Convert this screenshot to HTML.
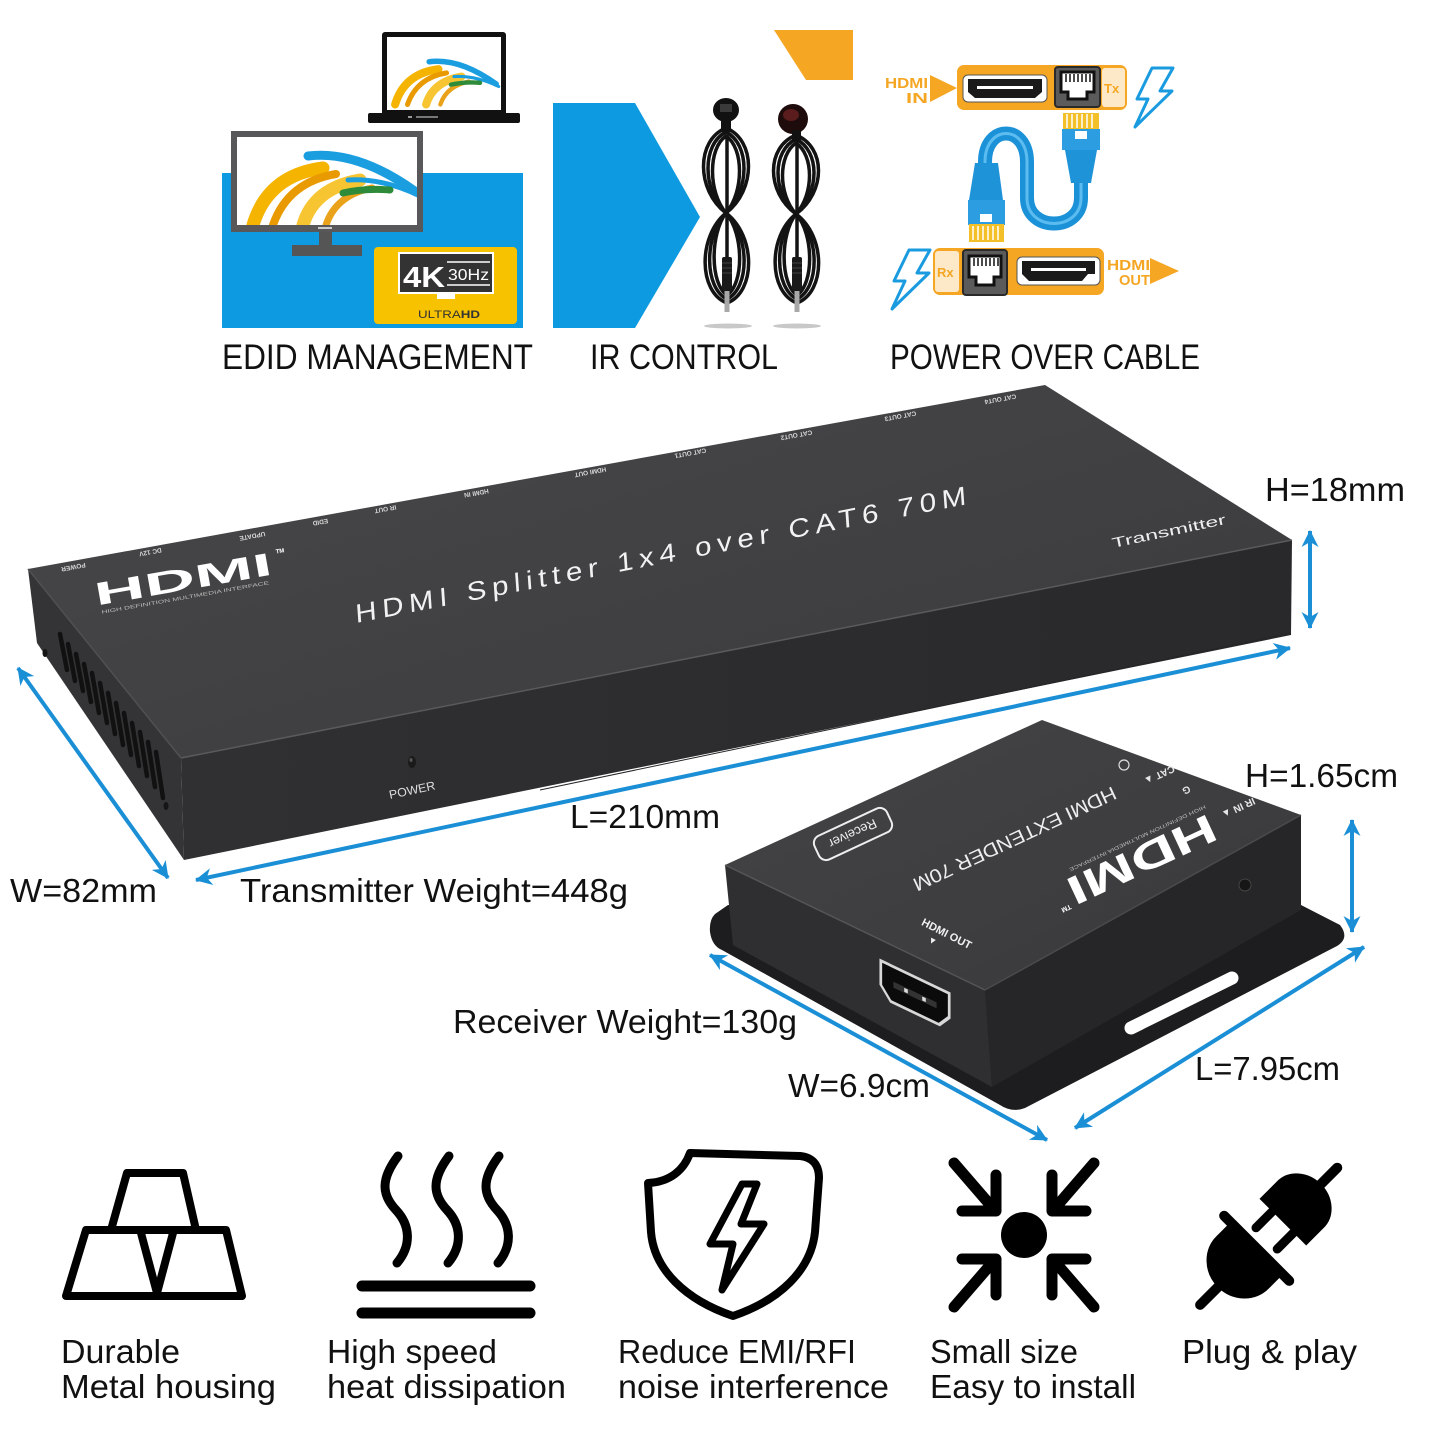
<!DOCTYPE html>
<html><head><meta charset="utf-8"><title>HDMI Splitter</title>
<style>
html,body{margin:0;padding:0;background:#fff;}
svg{display:block;}
text{font-family:"Liberation Sans",Arial,sans-serif;}
</style></head><body>
<svg width="1440" height="1440" viewBox="0 0 1440 1440" xmlns="http://www.w3.org/2000/svg">
<defs>
 <marker id="ah" viewBox="-17 -10 19 20" markerWidth="19" markerHeight="20" refX="0" refY="0" orient="auto-start-reverse" markerUnits="userSpaceOnUse">
  <path d="M1,0 L-16,-8.5 L-11,0 L-16,8.5 Z" fill="#1b8fd6"/>
 </marker>
 <linearGradient id="topG" x1="0" y1="0" x2="1" y2="1">
  <stop offset="0" stop-color="#48484a"/><stop offset="1" stop-color="#3a3a3c"/>
 </linearGradient>
 <linearGradient id="frontG" x1="0" y1="0" x2="1" y2="0">
  <stop offset="0" stop-color="#303032"/><stop offset="1" stop-color="#29292b"/>
 </linearGradient>
 <linearGradient id="rtopG" x1="0" y1="0" x2="1" y2="1">
  <stop offset="0" stop-color="#444446"/><stop offset="1" stop-color="#39393b"/>
 </linearGradient>
 <clipPath id="monClip"><rect x="237" y="137" width="180" height="88"/></clipPath>
 <clipPath id="lapClip"><rect x="387" y="37" width="114" height="73"/></clipPath>
 <g id="swoosh" fill="none" stroke-linecap="round">
  <path d="M5,75 Q20,25 75,18" stroke="#f5b400" stroke-width="13"/>
  <path d="M25,75 Q40,32 88,24" stroke="#e89a00" stroke-width="8"/>
  <path d="M55,75 Q66,38 112,30" stroke="#f7c531" stroke-width="13"/>
  <path d="M78,75 Q88,45 124,38" stroke="#eaa21a" stroke-width="7"/>
  <path d="M60,6 Q110,0 168,42" stroke="#1a9ee0" stroke-width="9"/>
  <path d="M100,30 Q135,28 172,46" stroke="#1a9ee0" stroke-width="5"/>
  <path d="M95,43 Q118,38 142,40" stroke="#2e8b3a" stroke-width="7"/>
 </g>
</defs>

<rect width="1440" height="1440" fill="#fff"/>

<!-- ================= EDID ================= -->
<rect x="222" y="173" width="301" height="155" fill="#0d9ae0"/>
<rect x="382" y="32" width="124" height="84" rx="3" fill="#111"/>
<rect x="387" y="37" width="114" height="73" fill="#fff"/>
<g clip-path="url(#lapClip)"><use href="#swoosh" transform="translate(392,58) scale(0.62)"/></g>
<rect x="368" y="113" width="152" height="10" rx="2" fill="#111"/>
<rect x="408" y="116" width="4" height="2" fill="#999"/><rect x="416" y="116" width="22" height="2" fill="#777"/>
<rect x="231" y="131" width="192" height="101" fill="#58585a"/>
<rect x="237" y="137" width="180" height="88" fill="#fff"/>
<g clip-path="url(#monClip)"><use href="#swoosh" transform="translate(248,150)"/></g>
<rect x="318" y="227" width="14" height="2" fill="#ccc"/>
<rect x="319" y="232" width="13" height="15" fill="#555"/>
<rect x="292" y="245" width="70" height="11" fill="#555"/>
<rect x="374" y="247" width="143" height="77" rx="4" fill="#f7c300"/>
<rect x="399" y="253" width="94" height="40" fill="#333" stroke="#fff" stroke-width="2"/>
<text x="403" y="287" font-size="29" font-weight="bold" fill="#fff" textLength="42" lengthAdjust="spacingAndGlyphs">4K</text>
<line x1="447" y1="262" x2="490" y2="262" stroke="#fff" stroke-width="1.5"/>
<line x1="447" y1="285" x2="490" y2="285" stroke="#fff" stroke-width="1.5"/>
<text x="448" y="280" font-size="16" fill="#fff" textLength="41" lengthAdjust="spacingAndGlyphs">30Hz</text>
<rect x="437" y="294" width="18" height="5" fill="#fff"/>
<text x="418" y="318" font-size="11" fill="#333" textLength="62" lengthAdjust="spacingAndGlyphs">ULTRA<tspan font-weight="bold">HD</tspan></text>

<!-- ================= IR ================= -->
<polygon points="553,103 635,103 700,217 635,328 553,328" fill="#0d9ae0"/>
<polygon points="774,30 853,30 853,80 806,80" fill="#f5a623"/>
<ellipse cx="728" cy="326" rx="24" ry="2.5" fill="#c8c8c8"/>
<ellipse cx="797" cy="326" rx="24" ry="2.5" fill="#c8c8c8"/>
<g fill="none" stroke="#131313" stroke-width="3.5" stroke-linejoin="round">
 <path d="M726,128 C696,140 696,190 726,213 C756,236 756,292 727,303 C698,292 698,236 726,213 C756,190 756,140 726,128 Z"/>
 <path d="M726,132 C702,144 702,190 726,213 C750,236 750,288 727,299 C704,288 704,236 726,213 C750,190 750,144 726,132 Z"/>
 <path d="M726,136 C708,148 708,192 726,213 C744,234 744,284 727,295 C710,284 710,234 726,213 C744,192 744,148 726,136 Z"/>
 <path d="M796,135 C766,147 766,192 796,214 C826,236 826,292 797,303 C768,292 768,236 796,214 C826,192 826,147 796,135 Z"/>
 <path d="M796,139 C772,151 772,192 796,214 C820,236 820,288 797,299 C774,288 774,236 796,214 C820,192 820,151 796,139 Z"/>
 <path d="M796,143 C778,155 778,194 796,214 C814,234 814,284 797,295 C780,284 780,234 796,214 C814,194 814,155 796,143 Z"/>
 <line x1="727" y1="135" x2="727" y2="258"/>
 <line x1="797" y1="142" x2="797" y2="258"/>
</g>
<ellipse cx="726" cy="110" rx="13" ry="12" fill="#111"/>
<rect x="720" y="104" width="12" height="8" fill="#3a3a3a"/>
<rect x="721" y="118" width="10" height="14" fill="#111"/>
<rect x="722" y="257" width="10" height="34" rx="2" fill="#1a1a1a"/>
<g stroke="#444" stroke-width="1"><line x1="722" y1="263" x2="732" y2="263"/><line x1="722" y1="268" x2="732" y2="268"/><line x1="722" y1="273" x2="732" y2="273"/></g>
<rect x="724.5" y="291" width="5" height="21" fill="#a8a8a8"/>
<ellipse cx="793" cy="119" rx="15" ry="15" fill="#1e0b0b"/>
<ellipse cx="791" cy="115" rx="8" ry="6" fill="#5a1c1c"/>
<rect x="792" y="130" width="9" height="12" fill="#111"/>
<rect x="792" y="257" width="10" height="34" rx="2" fill="#1a1a1a"/>
<g stroke="#444" stroke-width="1"><line x1="792" y1="263" x2="802" y2="263"/><line x1="792" y1="268" x2="802" y2="268"/><line x1="792" y1="273" x2="802" y2="273"/></g>
<rect x="794.5" y="291" width="5" height="21" fill="#a8a8a8"/>

<!-- ================= POWER OVER CABLE ================= -->
<text x="928" y="88" font-size="15" font-weight="bold" fill="#f5a623" text-anchor="end" textLength="43" lengthAdjust="spacingAndGlyphs">HDMI</text>
<text x="928" y="103" font-size="15" font-weight="bold" fill="#f5a623" text-anchor="end" textLength="22" lengthAdjust="spacingAndGlyphs">IN</text>
<polygon points="930,75 957,88 930,102" fill="#f5a623"/>
<rect x="957" y="65" width="170" height="45" rx="7" fill="#f5a623"/>
<rect x="1102" y="68" width="23" height="39" rx="3" fill="#fde9c8"/>
<text x="1104" y="93" font-size="13" font-weight="bold" fill="#f5a623">Tx</text>
<rect x="963" y="75" width="84" height="27" rx="5" fill="#fff" stroke="#555" stroke-width="1"/>
<path d="M968,79 H1042 V92 L1035,98 H975 L968,92 Z" fill="#1a1a1a"/>
<rect x="977" y="86" width="56" height="3" fill="#fff"/>
<rect x="1055" y="67" width="45" height="40" rx="3" fill="#5b5b5b" stroke="#2a2a2a" stroke-width="2"/>
<path d="M1061,72 H1094 V92 H1087 V99 H1068 V92 H1061 Z" fill="#fff" stroke="#111" stroke-width="3"/>
<g stroke="#111" stroke-width="1.5"><line x1="1066" y1="74" x2="1066" y2="82"/><line x1="1070" y1="74" x2="1070" y2="82"/><line x1="1074" y1="74" x2="1074" y2="82"/><line x1="1078" y1="74" x2="1078" y2="82"/><line x1="1082" y1="74" x2="1082" y2="82"/><line x1="1086" y1="74" x2="1086" y2="82"/><line x1="1090" y1="74" x2="1090" y2="82"/></g>
<path d="M1152,68 L1173,68 L1160,91 L1172,91 L1135,127 L1148,99 L1137,99 Z" fill="none" stroke="#1a9be0" stroke-width="3" stroke-linejoin="round"/>
<path d="M1081,178 L1081,198 C1081,232 1027,232 1027,198 L1027,162 C1027,124 985,124 985,162 L985,168" fill="none" stroke="#1b92d8" stroke-width="14"/>
<path d="M1081,178 L1081,198 C1081,232 1027,232 1027,198 L1027,162 C1027,124 985,124 985,162 L985,168" fill="none" stroke="#5cbcf0" stroke-width="3"/>
<rect x="1063" y="113" width="36" height="17" fill="#f3c02a"/>
<g stroke="#fff" stroke-width="1.5"><line x1="1067" y1="114" x2="1067" y2="128"/><line x1="1072" y1="114" x2="1072" y2="128"/><line x1="1077" y1="114" x2="1077" y2="128"/><line x1="1082" y1="114" x2="1082" y2="128"/><line x1="1087" y1="114" x2="1087" y2="128"/><line x1="1092" y1="114" x2="1092" y2="128"/></g>
<rect x="1062" y="129" width="38" height="21" fill="#2b9de0"/>
<rect x="1075" y="131" width="12" height="8" fill="#fff"/>
<path d="M1065,150 H1097 L1091,183 H1071 Z" fill="#1f93d8"/>
<path d="M975,163 H998 L1003,200 H969 Z" fill="#1f93d8"/>
<rect x="968" y="200" width="37" height="25" fill="#2b9de0"/>
<rect x="980" y="214" width="12" height="8" fill="#fff"/>
<rect x="969" y="224" width="35" height="18" fill="#f3c02a"/>
<g stroke="#fff" stroke-width="1.5"><line x1="973" y1="226" x2="973" y2="240"/><line x1="978" y1="226" x2="978" y2="240"/><line x1="983" y1="226" x2="983" y2="240"/><line x1="988" y1="226" x2="988" y2="240"/><line x1="993" y1="226" x2="993" y2="240"/><line x1="998" y1="226" x2="998" y2="240"/></g>
<rect x="933" y="248" width="171" height="47" rx="7" fill="#f5a623"/>
<rect x="935" y="251" width="24" height="41" rx="3" fill="#fde9c8"/>
<text x="937" y="277" font-size="13" font-weight="bold" fill="#f5a623">Rx</text>
<rect x="963" y="250" width="44" height="45" rx="3" fill="#5b5b5b" stroke="#2a2a2a" stroke-width="2"/>
<path d="M969,256 H1001 V277 H994 V285 H976 V277 H969 Z" fill="#fff" stroke="#111" stroke-width="3"/>
<g stroke="#111" stroke-width="1.5"><line x1="974" y1="258" x2="974" y2="266"/><line x1="978" y1="258" x2="978" y2="266"/><line x1="982" y1="258" x2="982" y2="266"/><line x1="986" y1="258" x2="986" y2="266"/><line x1="990" y1="258" x2="990" y2="266"/><line x1="994" y1="258" x2="994" y2="266"/><line x1="998" y1="258" x2="998" y2="266"/></g>
<rect x="1017" y="257" width="83" height="28" rx="5" fill="#fff" stroke="#555" stroke-width="1"/>
<path d="M1022,261 H1095 V274 H1088 L1082,281 H1029 L1022,274 Z" fill="#1a1a1a"/>
<rect x="1031" y="268" width="55" height="3" fill="#fff"/>
<text x="1107" y="270" font-size="15" font-weight="bold" fill="#f5a623" textLength="43" lengthAdjust="spacingAndGlyphs">HDMI</text>
<text x="1150" y="285" font-size="15" font-weight="bold" fill="#f5a623" text-anchor="end" textLength="31" lengthAdjust="spacingAndGlyphs">OUT</text>
<polygon points="1150,258 1179,271 1150,284" fill="#f5a623"/>
<path d="M909,250 L930,250 L917,273 L929,273 L892,309 L905,281 L894,281 Z" fill="none" stroke="#1a9be0" stroke-width="3" stroke-linejoin="round"/>

<text x="222" y="369" font-size="35" fill="#111" textLength="311" lengthAdjust="spacingAndGlyphs">EDID MANAGEMENT</text>
<text x="590" y="369" font-size="35" fill="#111" textLength="188" lengthAdjust="spacingAndGlyphs">IR CONTROL</text>
<text x="890" y="369" font-size="35" fill="#111" textLength="310" lengthAdjust="spacingAndGlyphs">POWER OVER CABLE</text>

<!-- ================= TRANSMITTER ================= -->
<polygon points="28,569 181,758 184,860 37,643" fill="#343436"/>
<polygon points="181,758 1292,540 1291,635 184,860" fill="url(#frontG)"/>
<polygon points="28,569 1045,385 1292,540 181,758" fill="url(#topG)"/>
<line x1="181" y1="758" x2="1292" y2="540" stroke="#5a5a5c" stroke-width="1.5"/>
<line x1="28" y1="569" x2="181" y2="758" stroke="#505052" stroke-width="1.5"/>
<line x1="540" y1="790" x2="1291" y2="633" stroke="#252527" stroke-width="1"/>
<g stroke="#111" stroke-width="4.5" stroke-linecap="round">
 <line x1="60" y1="634" x2="67" y2="670"/><line x1="68" y1="644" x2="75" y2="681"/>
 <line x1="76" y1="654" x2="83" y2="691"/><line x1="84" y1="664" x2="91" y2="702"/>
 <line x1="92" y1="673" x2="99" y2="713"/><line x1="100" y1="683" x2="107" y2="723"/>
 <line x1="108" y1="693" x2="115" y2="734"/><line x1="116" y1="703" x2="123" y2="745"/>
 <line x1="124" y1="713" x2="131" y2="755"/><line x1="132" y1="723" x2="139" y2="766"/>
 <line x1="140" y1="732" x2="147" y2="776"/><line x1="148" y1="742" x2="155" y2="787"/>
 <line x1="156" y1="752" x2="163" y2="798"/>
</g>
<ellipse cx="45" cy="653" rx="2.5" ry="4" fill="#151515"/>
<ellipse cx="166" cy="806" rx="2.5" ry="4" fill="#151515"/>
<g transform="translate(185,590) rotate(-10)" fill="#fff">
 <text x="0" y="0" font-size="32" font-weight="bold" text-anchor="middle" textLength="180" lengthAdjust="spacingAndGlyphs">HDMI</text>
 <text x="96" y="-20" font-size="6" font-weight="bold">TM</text>
 <text x="-86" y="9" font-size="5" fill="#bbb" textLength="170" lengthAdjust="spacingAndGlyphs">HIGH DEFINITION MULTIMEDIA INTERFACE</text>
</g>
<g transform="translate(356,623) rotate(-11) skewX(-7) scale(1.15,1)">
 <text x="0" y="0" font-size="26" fill="#f2f2f2" textLength="541" lengthAdjust="spacing">HDMI Splitter 1x4 over CAT6 70M</text>
</g>
<g font-size="6.5" font-weight="bold" fill="#d6d6d6" text-anchor="middle">
 <text transform="translate(73,565) rotate(169.5)">POWER</text>
 <text transform="translate(150,550) rotate(169.5)">DC 12V</text>
 <text transform="translate(252,534) rotate(169.5)">UPDATE</text>
 <text transform="translate(320,520) rotate(169.5)">EDID</text>
 <text transform="translate(385,507) rotate(169.5)">IR OUT</text>
 <text transform="translate(476,491) rotate(169.5)">HDMI IN</text>
 <text transform="translate(590,470) rotate(169.5)">HDMI OUT</text>
 <text transform="translate(690,451) rotate(169.5)">CAT OUT1</text>
 <text transform="translate(796,433) rotate(169.5)">CAT OUT2</text>
 <text transform="translate(900,414) rotate(169.5)">CAT OUT3</text>
 <text transform="translate(1000,397) rotate(169.5)">CAT OUT4</text>
</g>
<text transform="translate(1113,548) rotate(-12)" font-size="14" fill="#eee" textLength="116" lengthAdjust="spacingAndGlyphs">Transmitter</text>
<ellipse cx="412" cy="762" rx="4" ry="6" fill="#1a1a1a"/>
<ellipse cx="411" cy="760" rx="1.5" ry="2" fill="#555"/>
<text transform="translate(390,799) rotate(-12)" font-size="12" fill="#ddd" textLength="47" lengthAdjust="spacingAndGlyphs">POWER</text>

<g stroke="#1b8fd6" stroke-width="4" fill="none">
 <line x1="18" y1="668" x2="168" y2="878" marker-start="url(#ah)" marker-end="url(#ah)"/>
 <line x1="196" y1="880" x2="1290" y2="648" marker-start="url(#ah)" marker-end="url(#ah)"/>
 <line x1="1310" y1="531" x2="1310" y2="628" marker-start="url(#ah)" marker-end="url(#ah)"/>
</g>
<g font-size="33" fill="#111">
 <text x="1265" y="501" textLength="140" lengthAdjust="spacingAndGlyphs">H=18mm</text>
 <text x="570" y="828" textLength="150" lengthAdjust="spacingAndGlyphs">L=210mm</text>
 <text x="10" y="902" textLength="147" lengthAdjust="spacingAndGlyphs">W=82mm</text>
 <text x="240" y="902" textLength="388" lengthAdjust="spacingAndGlyphs">Transmitter Weight=448g</text>
</g>

<!-- ================= RECEIVER ================= -->
<path d="M728,905 L715,914 Q709,920 710,932 Q712,946 722,950 L1000,1105 Q1012,1113 1025,1108 L1337,946 Q1350,938 1340,925 L1301,905 Z" fill="#1d1d1f"/>
<polygon points="725,865 985,990 992,1087 733,945" fill="#2f2f31"/>
<polygon points="985,990 1301,815 1301,910 992,1087" fill="#262628"/>
<polygon points="725,865 1042,720 1301,815 985,990" fill="url(#rtopG)"/>
<line x1="725" y1="865" x2="985" y2="990" stroke="#555" stroke-width="1.5"/>
<line x1="985" y1="990" x2="1301" y2="815" stroke="#4a4a4a" stroke-width="1.5"/>
<line x1="1131" y1="1028" x2="1232" y2="978" stroke="#fff" stroke-width="13" stroke-linecap="round"/>
<circle cx="1245" cy="885" r="6" fill="#161616" stroke="#444" stroke-width="1"/>
<g transform="matrix(0.9,0.43,0,1,915,995)">
 <path d="M-38,-18 H38 V6 L27,18 H-27 L-38,6 Z" fill="#0b0b0b" stroke="#d8d8d8" stroke-width="3"/>
 <rect x="-24" y="-3" width="48" height="6" fill="#333"/>
 <rect x="-12" y="-2" width="4" height="4" fill="#ddd"/><rect x="8" y="-2" width="4" height="4" fill="#ddd"/>
</g>
<g transform="translate(945,937) rotate(27)" fill="#f0f0f0">
 <text x="0" y="0" font-size="11" font-weight="bold" text-anchor="middle">HDMI OUT</text>
 <text x="-14" y="12" font-size="9">▼</text>
</g>
<g transform="translate(1012,833) rotate(155) scale(1.12,1)" fill="#eee">
 <text x="0" y="0" font-size="19" text-anchor="middle" textLength="198" lengthAdjust="spacing">HDMI EXTENDER 70M</text>
</g>
<g transform="translate(853,834) rotate(155)">
 <rect x="-40" y="-13" width="80" height="26" rx="8" fill="none" stroke="#eee" stroke-width="2"/>
 <text x="0" y="5" font-size="13" fill="#eee" text-anchor="middle">Receiver</text>
</g>
<g transform="translate(1136,847) rotate(155)" fill="#fff">
 <text x="0" y="0" font-size="40" font-weight="bold" text-anchor="middle" textLength="160" lengthAdjust="spacingAndGlyphs">HDMI</text>
 <text x="-80" y="9" font-size="5" fill="#bbb" textLength="150" lengthAdjust="spacingAndGlyphs">HIGH DEFINITION MULTIMEDIA INTERFACE</text>
 <text x="84" y="-24" font-size="7" font-weight="bold">TM</text>
</g>
<g fill="#e6e6e6" font-size="10" font-weight="bold" text-anchor="middle">
 <text transform="translate(1158,772) rotate(155)">CAT ▲</text>
 <text transform="translate(1237,805) rotate(155)">IR IN ▲</text>
 <text transform="translate(1185,787) rotate(155)">G</text>
</g>
<circle cx="1124" cy="765" r="5" fill="none" stroke="#ddd" stroke-width="1.2"/>

<g stroke="#1b8fd6" stroke-width="4" fill="none">
 <line x1="1352" y1="820" x2="1352" y2="932" marker-start="url(#ah)" marker-end="url(#ah)"/>
 <line x1="1364" y1="947" x2="1075" y2="1128" marker-start="url(#ah)" marker-end="url(#ah)"/>
 <line x1="710" y1="955" x2="1047" y2="1140" marker-start="url(#ah)" marker-end="url(#ah)"/>
</g>
<g font-size="33" fill="#111">
 <text x="1245" y="787" textLength="153" lengthAdjust="spacingAndGlyphs">H=1.65cm</text>
 <text x="1195" y="1080" textLength="145" lengthAdjust="spacingAndGlyphs">L=7.95cm</text>
 <text x="788" y="1097" textLength="142" lengthAdjust="spacingAndGlyphs">W=6.9cm</text>
 <text x="453" y="1033" textLength="344" lengthAdjust="spacingAndGlyphs">Receiver Weight=130g</text>
</g>

<!-- ================= BOTTOM ICONS ================= -->
<g fill="none" stroke="#000" stroke-width="8" stroke-linejoin="round" stroke-linecap="round">
 <polygon points="127,1173 183,1173 196,1230 111,1230"/>
 <polygon points="86,1230 226,1230 242,1296 66,1296"/>
 <polyline points="141,1233 157,1293 173,1233"/>
</g>
<g fill="none" stroke="#000" stroke-width="9" stroke-linecap="round">
 <path d="M398,1156 C380,1180 382,1195 396,1210 C410,1225 412,1245 397,1263"/>
 <path d="M449,1156 C431,1180 433,1195 447,1210 C461,1225 463,1245 448,1263"/>
 <path d="M499,1156 C481,1180 483,1195 497,1210 C511,1225 513,1245 498,1263"/>
</g>
<g stroke="#000" stroke-width="11" stroke-linecap="round">
 <line x1="362" y1="1286" x2="530" y2="1286"/>
 <line x1="362" y1="1313" x2="530" y2="1313"/>
</g>
<path d="M648,1183 C670,1182 684,1170 690,1153 L800,1156 Q819,1158 819,1178 L815,1232 C811,1270 780,1300 733,1316 C686,1300 654,1270 651,1232 Z" fill="none" stroke="#000" stroke-width="8" stroke-linejoin="round"/>
<polygon points="742,1184 710,1244 733,1244 722,1290 764,1224 741,1224 757,1184" fill="none" stroke="#000" stroke-width="7" stroke-linejoin="round"/>
<g transform="translate(1024,1235)">
 <circle r="23" fill="#000"/>
 <g id="arr" fill="none" stroke="#000" stroke-width="11" stroke-linecap="round" stroke-linejoin="round">
  <line x1="-70" y1="-72" x2="-32" y2="-28"/>
  <polyline points="-28,-60 -28,-24 -62,-24"/>
 </g>
 <use href="#arr" transform="scale(-1,1)"/>
 <use href="#arr" transform="scale(1,-1)"/>
 <use href="#arr" transform="scale(-1,-1)"/>
</g>
<g transform="translate(1268,1237) rotate(45)" fill="#000" stroke="#000" stroke-linecap="round">
 <line x1="0" y1="-70" x2="0" y2="-98" stroke-width="10"/>
 <path d="M-32,-22 L-32,-46 A32,28 0 0 1 32,-46 L32,-22 Z" stroke-width="2"/>
 <line x1="-15" y1="-22" x2="-15" y2="2" stroke-width="9"/>
 <line x1="15" y1="-22" x2="15" y2="2" stroke-width="9"/>
 <line x1="-46" y1="16" x2="46" y2="16" stroke-width="10"/>
 <path d="M-36,16 L-36,36 A36,34 0 0 0 36,36 L36,16 Z" stroke-width="2"/>
 <line x1="0" y1="66" x2="0" y2="96" stroke-width="10"/>
</g>
<g font-size="33" fill="#111">
 <text x="61" y="1363" textLength="119" lengthAdjust="spacingAndGlyphs">Durable</text>
 <text x="61" y="1398" textLength="215" lengthAdjust="spacingAndGlyphs">Metal housing</text>
 <text x="327" y="1363" textLength="170" lengthAdjust="spacingAndGlyphs">High speed</text>
 <text x="327" y="1398" textLength="239" lengthAdjust="spacingAndGlyphs">heat dissipation</text>
 <text x="618" y="1363" textLength="238" lengthAdjust="spacingAndGlyphs">Reduce EMI/RFI</text>
 <text x="618" y="1398" textLength="271" lengthAdjust="spacingAndGlyphs">noise interference</text>
 <text x="930" y="1363" textLength="148" lengthAdjust="spacingAndGlyphs">Small size</text>
 <text x="930" y="1398" textLength="206" lengthAdjust="spacingAndGlyphs">Easy to install</text>
 <text x="1182" y="1363" textLength="175" lengthAdjust="spacingAndGlyphs">Plug &amp; play</text>
</g>
</svg>
</body></html>
